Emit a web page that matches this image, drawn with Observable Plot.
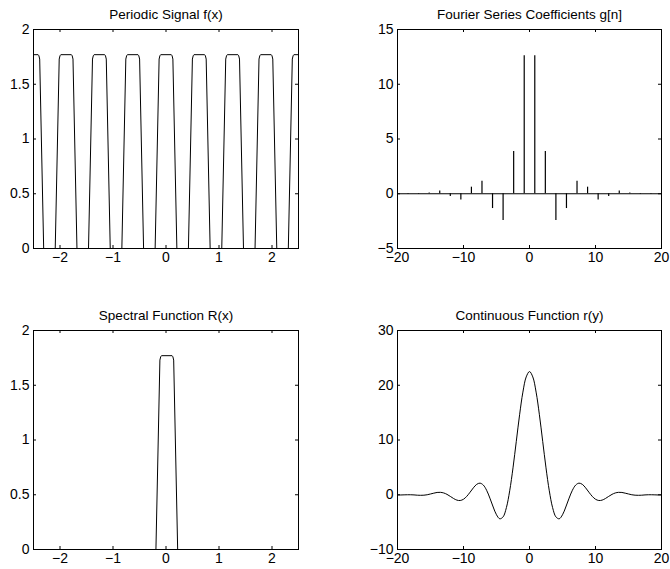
<!DOCTYPE html>
<html>
<head>
<meta charset="utf-8">
<script src="https://cdn.jsdelivr.net/npm/d3@7"></script>
<script src="https://cdn.jsdelivr.net/npm/@observablehq/plot@0.6"></script>
<style>
  body { margin: 0; background: #fff; }
  #wrap { position: relative; width: 670px; height: 569px; background: #fff; overflow: hidden; }
  #wrap > div { position: absolute; }
</style>
</head>
<body>
<div id="wrap">
  <div id="tl" style="left:0;top:0;width:335px;height:280px"></div>
  <div id="tr" style="left:335px;top:0;width:335px;height:280px"></div>
  <div id="bl" style="left:0;top:280px;width:335px;height:289px"></div>
  <div id="br" style="left:335px;top:280px;width:335px;height:289px"></div>
</div>
<script>
// ---- Periodic signal f(x) ----
const fX = [-2.5, -2.413, -2.398, -2.383, -2.308,
  -2.09, -2.015, -2.0, -1.985, -1.785, -1.77, -1.755, -1.68,
  -1.462, -1.387, -1.372, -1.357, -1.157, -1.142, -1.127, -1.052,
  -0.833, -0.758, -0.743, -0.728, -0.528, -0.513, -0.498, -0.423,
  -0.205, -0.13, -0.115, -0.1, 0.1, 0.115, 0.13, 0.205,
  0.423, 0.498, 0.513, 0.528, 0.728, 0.743, 0.758, 0.833,
  1.052, 1.127, 1.142, 1.157, 1.357, 1.372, 1.387, 1.462,
  1.68, 1.755, 1.77, 1.785, 1.985, 2.0, 2.015, 2.09,
  2.308, 2.383, 2.398, 2.413, 2.5];
const fY = [1.77, 1.77, 1.76, 1.73, 0,
  0, 1.73, 1.76, 1.77, 1.77, 1.76, 1.73, 0,
  0, 1.73, 1.76, 1.77, 1.77, 1.76, 1.73, 0,
  0, 1.73, 1.76, 1.77, 1.77, 1.76, 1.73, 0,
  0, 1.73, 1.76, 1.77, 1.77, 1.76, 1.73, 0,
  0, 1.73, 1.76, 1.77, 1.77, 1.76, 1.73, 0,
  0, 1.73, 1.76, 1.77, 1.77, 1.76, 1.73, 0,
  0, 1.73, 1.76, 1.77, 1.77, 1.76, 1.73, 0,
  0, 1.73, 1.76, 1.77, 1.77];

// ---- Fourier series coefficients g[n] ----
const gN = [-18.4, -16.8, -15.2, -13.6, -12.0, -10.4, -8.8, -7.2, -5.6, -4.0, -2.4, -0.8,
  0.8, 2.4, 4.0, 5.6, 7.2, 8.8, 10.4, 12.0, 13.6, 15.2, 16.8, 18.4];
const gV = [-0.04, -0.04, 0.06, 0.26, -0.26, -0.57, 0.6, 1.15, -1.35, -2.45, 3.85, 12.6,
  12.6, 3.85, -2.45, -1.35, 1.15, 0.6, -0.57, -0.26, 0.26, 0.06, -0.04, -0.04];

// ---- Spectral function R(x) ----
const RX = [-2.5, -0.19, -0.115, -0.1, -0.085, 0.115, 0.13, 0.145, 0.22, 2.5];
const RY = [0, 0, 1.73, 1.76, 1.77, 1.77, 1.76, 1.73, 0, 0];

// ---- Continuous function r(y) ----
const rY = [-20, -19.5, -19, -18.5, -18, -17.5, -17, -16.5, -16, -15.5, -15, -14.5, -14, -13.5,
  -13, -12.5, -12, -11.5, -11, -10.5, -10, -9.5, -9, -8.5, -8, -7.5, -7, -6.5, -6, -5.5, -5,
  -4.5, -4, -3.5, -3, -2.5, -2, -1.5, -1, -0.5, 0, 0.5, 1, 1.5, 2, 2.5, 3, 3.5, 4, 4.5, 5,
  5.5, 6, 6.5, 7, 7.5, 8, 8.5, 9, 9.5, 10, 10.5, 11, 11.5, 12, 12.5, 13, 13.5, 14, 14.5, 15,
  15.5, 16, 16.5, 17, 17.5, 18, 18.5, 19, 19.5, 20];
const rV = [-0.05, -0.04, -0.02, 0, 0, -0.03, -0.08, -0.10, -0.08, 0, 0.14, 0.29, 0.42, 0.44,
  0.33, 0.07, -0.30, -0.69, -0.98, -1.05, -0.82, -0.28, 0.47, 1.27, 1.90, 2.12, 1.77, 0.82, -0.62, -2.24, -3.66,
  -4.39, -4.04, -2.35, 0.72, 4.91, 9.76, 14.61, 18.75, 21.52, 22.5, 21.52, 18.75, 14.61, 9.76, 4.91, 0.72, -2.35, -4.04, -4.39, -3.66,
  -2.24, -0.62, 0.82, 1.77, 2.12, 1.90, 1.27, 0.47, -0.28, -0.82, -1.05, -0.98, -0.69, -0.30, 0.07, 0.33, 0.44, 0.42, 0.29, 0.14,
  0, -0.08, -0.10, -0.08, -0.03, 0, 0, -0.02, -0.04, -0.05];

// ---- Tick values ----
const xTicksSmall = [-2, -1, 0, 1, 2];
const yTicksSignal = [0, 0.5, 1, 1.5, 2];
const xTicksWide = [-20, -10, 0, 10, 20];
const yTicksCoef = [-5, 0, 5, 10, 15];
const yTicksCont = [-10, 0, 10, 20, 30];

const titles = ["Periodic Signal f(x)", "Fourier Series Coefficients g[n]",
  "Spectral Function R(x)", "Continuous Function r(y)"];

const fontFamily = "'Liberation Sans', Arial, Helvetica, sans-serif";
const fmt = d => (d < 0 ? "\u2212" + Math.abs(d) : String(d));

function panel(id, {width, height, ml, mr, mt, mb, xDomain, yDomain, xTicks, yTicks, title, marks}) {
  const iw = width - ml - mr, ih = height - mt - mb, tl = 3;
  const chart = Plot.plot({
    width, height, marginLeft: ml, marginRight: mr, marginTop: mt, marginBottom: mb,
    style: {fontFamily, fontSize: "14px", color: "black", background: "transparent", overflow: "visible"},
    x: {domain: xDomain, ticks: xTicks, tickSize: 0, tickPadding: 4, tickFormat: fmt, label: null},
    y: {domain: yDomain, ticks: yTicks, tickSize: 0, tickPadding: 4, tickFormat: fmt, label: null},
    marks: [
      ...marks,
      Plot.tickX(xTicks, {x: d => d, insetTop: ih - tl, stroke: "black"}),
      Plot.tickX(xTicks, {x: d => d, insetBottom: ih - tl, stroke: "black"}),
      Plot.tickY(yTicks, {y: d => d, insetRight: iw - tl, stroke: "black"}),
      Plot.tickY(yTicks, {y: d => d, insetLeft: iw - tl, stroke: "black"}),
      Plot.frame({stroke: "black"}),
      Plot.text([title], {text: d => d, frameAnchor: "top", dy: -15, lineAnchor: "middle", fontSize: 13.5, fill: "black"})
    ]
  });
  document.getElementById(id).appendChild(chart);
}

const fData = fX.map((x, i) => ({x, y: fY[i]}));
const gData = gN.map((x, i) => ({x, y: gV[i]}));
const RData = RX.map((x, i) => ({x, y: RY[i]}));
const rData = rY.map((x, i) => ({x, y: rV[i]}));

panel("tl", {width: 335, height: 280, ml: 33, mr: 37, mt: 29, mb: 32,
  xDomain: [-2.5, 2.5], yDomain: [0, 2], xTicks: xTicksSmall, yTicks: yTicksSignal, title: titles[0],
  marks: [Plot.line(fData, {x: "x", y: "y", stroke: "black", strokeWidth: 1})]});

panel("tr", {width: 335, height: 280, ml: 62, mr: 9, mt: 29, mb: 32,
  xDomain: [-20, 20], yDomain: [-5, 15], xTicks: xTicksWide, yTicks: yTicksCoef, title: titles[1],
  marks: [
    Plot.ruleY([0], {stroke: "black", strokeWidth: 1}),
    Plot.ruleX(gData, {x: "x", y1: 0, y2: "y", stroke: "black", strokeWidth: 1.2})
  ]});

panel("bl", {width: 335, height: 289, ml: 33, mr: 37, mt: 50, mb: 20,
  xDomain: [-2.5, 2.5], yDomain: [0, 2], xTicks: xTicksSmall, yTicks: yTicksSignal, title: titles[2],
  marks: [Plot.line(RData, {x: "x", y: "y", stroke: "black", strokeWidth: 1})]});

panel("br", {width: 335, height: 289, ml: 62, mr: 9, mt: 50, mb: 20,
  xDomain: [-20, 20], yDomain: [-10, 30], xTicks: xTicksWide, yTicks: yTicksCont, title: titles[3],
  marks: [Plot.line(rData, {x: "x", y: "y", stroke: "black", strokeWidth: 1, curve: "catmull-rom"})]});
</script>
</body>
</html>
